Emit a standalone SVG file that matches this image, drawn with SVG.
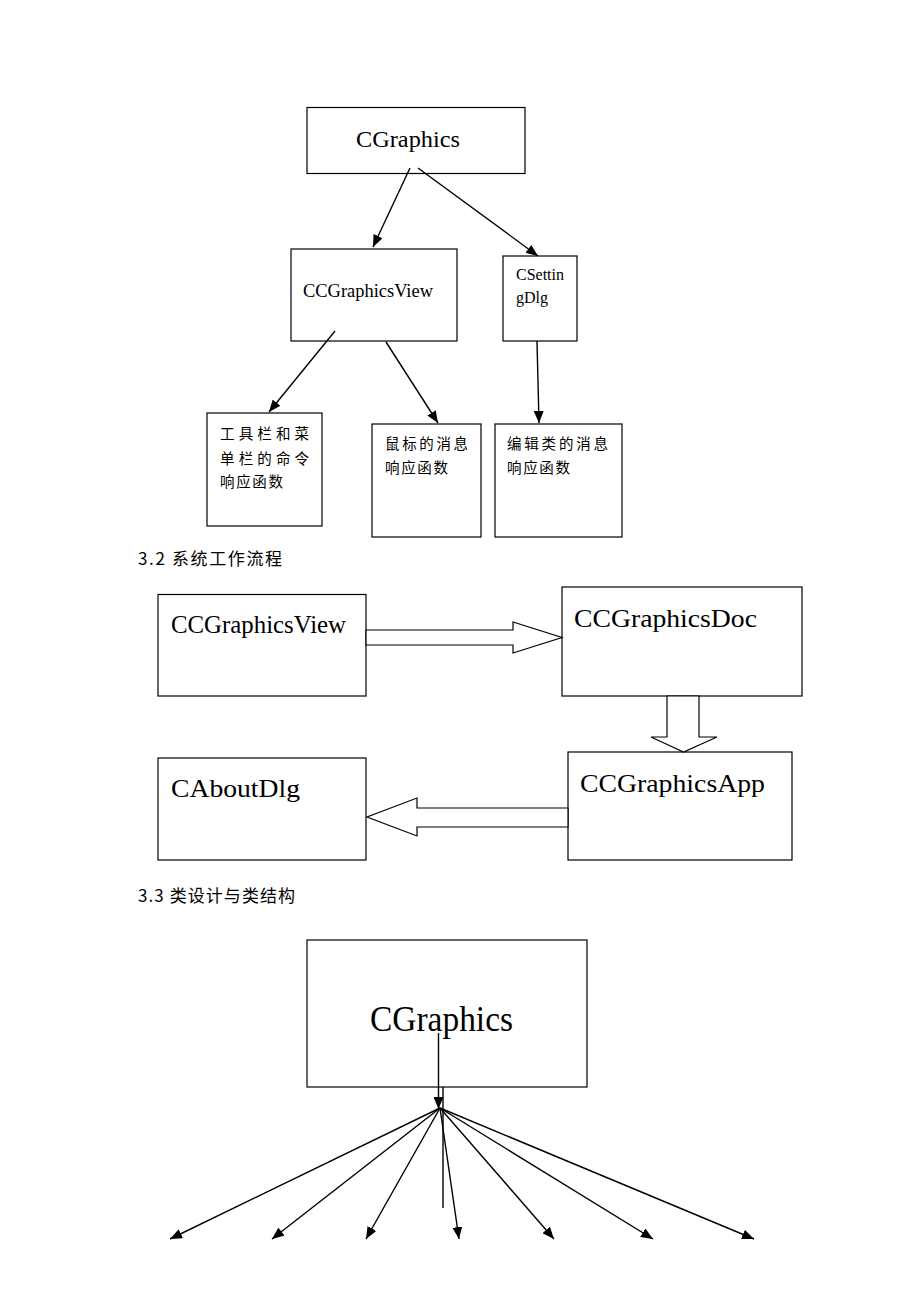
<svg xmlns="http://www.w3.org/2000/svg" width="920" height="1302" viewBox="0 0 920 1302">
<style>
.box{fill:#fff;stroke:#000;stroke-width:1.2}
.ln{stroke:#000;stroke-width:1.4;fill:none}
.hol{fill:#fff;stroke:#000;stroke-width:1.2;stroke-linejoin:miter}
.t{font-family:"Liberation Serif","Times New Roman",serif;fill:#000}
.cj{font-family:"Noto Sans CJK SC",sans-serif;fill:#000;font-size:14.5px}
.hd{font-family:"Noto Sans CJK SC",sans-serif;fill:#000;font-size:17px;font-weight:normal}
</style>
<defs>
<marker id="ah" markerUnits="userSpaceOnUse" markerWidth="12" markerHeight="10" refX="12" refY="5" orient="auto">
<path d="M0,0 L12,5 L0,10 z" fill="#000"/>
</marker>
</defs>
<rect width="920" height="1302" fill="#fff"/>

<!-- Section 1 -->
<g id="n-cgraphics1">
<rect class="box" x="307" y="107.5" width="218" height="66"/>
<text class="t" x="356" y="147" font-size="24" textLength="104" lengthAdjust="spacingAndGlyphs">CGraphics</text>
</g>
<g id="n-view1">
<rect class="box" x="291" y="249" width="166" height="92"/>
<text class="t" x="303" y="297" font-size="18" textLength="130" lengthAdjust="spacingAndGlyphs">CCGraphicsView</text>
</g>
<g id="n-setting">
<rect class="box" x="503" y="256" width="74" height="85"/>
<text class="t" x="516" y="280" font-size="16">CSettin</text>
<text class="t" x="516" y="303" font-size="16">gDlg</text>
</g>
<g id="n-toolbar">
<rect class="box" x="207" y="413" width="115" height="113"/>
<text class="cj" x="220" y="439" textLength="89" lengthAdjust="spacing">工具栏和菜</text>
<text class="cj" x="220" y="464" textLength="89" lengthAdjust="spacing">单栏的命令</text>
<text class="cj" x="220" y="487" textLength="63" lengthAdjust="spacing">响应函数</text>
</g>
<g id="n-mouse">
<rect class="box" x="372" y="424" width="109" height="113"/>
<text class="cj" x="385" y="449" textLength="83" lengthAdjust="spacing">鼠标的消息</text>
<text class="cj" x="385" y="473" textLength="63" lengthAdjust="spacing">响应函数</text>
</g>
<g id="n-edit">
<rect class="box" x="495" y="424" width="127" height="113"/>
<text class="cj" x="507" y="449" textLength="101" lengthAdjust="spacing">编辑类的消息</text>
<text class="cj" x="507" y="473" textLength="63" lengthAdjust="spacing">响应函数</text>
</g>

<text class="hd" x="138" y="565" textLength="144" lengthAdjust="spacing">3.2 系统工作流程</text>

<!-- Section 2 -->
<g id="n-view2">
<rect class="box" x="158" y="594.5" width="208" height="101.5"/>
<text class="t" x="171" y="633" font-size="26" textLength="175" lengthAdjust="spacingAndGlyphs">CCGraphicsView</text>
</g>
<g id="n-doc">
<rect class="box" x="562" y="587" width="240" height="109"/>
<text class="t" x="574" y="627" font-size="26" textLength="183" lengthAdjust="spacingAndGlyphs">CCGraphicsDoc</text>
</g>
<g id="n-app">
<rect class="box" x="568" y="752" width="224" height="108"/>
<text class="t" x="580" y="792" font-size="26" textLength="185" lengthAdjust="spacingAndGlyphs">CCGraphicsApp</text>
</g>
<g id="n-about">
<rect class="box" x="158" y="758" width="208" height="102"/>
<text class="t" x="171" y="797" font-size="26" textLength="129" lengthAdjust="spacingAndGlyphs">CAboutDlg</text>
</g>

<text class="hd" x="138" y="902" textLength="157" lengthAdjust="spacing">3.3 类设计与类结构</text>

<!-- Section 3 -->
<g id="n-cgraphics2">
<rect class="box" x="307" y="940" width="280" height="147"/>
<text class="t" x="370" y="1031" font-size="35" textLength="143" lengthAdjust="spacingAndGlyphs">CGraphics</text>
</g>

<g id="connectors">
<line class="ln" x1="410" y1="168" x2="373" y2="247" marker-end="url(#ah)"/>
<line class="ln" x1="418" y1="168" x2="538" y2="256" marker-end="url(#ah)"/>
<line class="ln" x1="335" y1="331" x2="269" y2="412" marker-end="url(#ah)"/>
<line class="ln" x1="386" y1="342" x2="438" y2="423" marker-end="url(#ah)"/>
<line class="ln" x1="537" y1="341" x2="539" y2="423" marker-end="url(#ah)"/>

<polygon class="hol" points="366,630 513,630 513,622 562,637.5 513,653 513,645 366,645"/>
<polygon class="hol" points="667,696 667,737 651,737 683.5,752 717,737 699,737 699,696"/>
<polygon class="hol" points="568,808 417,808 417,798 367,817 417,836 417,827 568,827"/>

<line class="ln" x1="443" y1="1087" x2="443" y2="1208" stroke-width="1.1"/>
<line class="ln" x1="438.5" y1="1033" x2="438.5" y2="1109" marker-end="url(#ah)"/>
<line class="ln" x1="440" y1="1108" x2="170" y2="1239" marker-end="url(#ah)"/>
<line class="ln" x1="440" y1="1108" x2="272" y2="1239" marker-end="url(#ah)"/>
<line class="ln" x1="440" y1="1108" x2="366" y2="1239" marker-end="url(#ah)"/>
<line class="ln" x1="440" y1="1108" x2="459" y2="1239" marker-end="url(#ah)"/>
<line class="ln" x1="440" y1="1108" x2="554" y2="1239" marker-end="url(#ah)"/>
<line class="ln" x1="440" y1="1108" x2="653" y2="1239" marker-end="url(#ah)"/>
<line class="ln" x1="440" y1="1108" x2="754" y2="1239" marker-end="url(#ah)"/>
</g>
</svg>
